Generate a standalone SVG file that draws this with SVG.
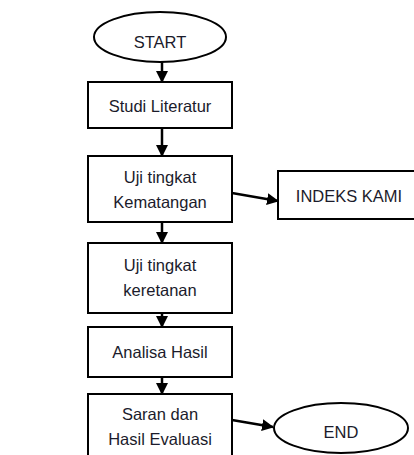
<svg xmlns="http://www.w3.org/2000/svg" width="414" height="455" viewBox="0 0 414 455">
<defs>
<marker id="ah" markerWidth="12" markerHeight="12" refX="11" refY="6" orient="auto" markerUnits="userSpaceOnUse">
<path d="M0,0 L12,6 L0,12 Z" fill="#000"/>
</marker>
<style>
.box{fill:#fff;stroke:#000;stroke-width:2}
.t{font-family:"Liberation Sans",Arial,sans-serif;font-size:16.5px;fill:#1b1b2b;text-anchor:middle}
.c{fill:none;stroke:#000;stroke-width:2.5;marker-end:url(#ah)}
</style>
</defs>
<rect width="414" height="455" fill="#fff"/>
<g id="connectors">
<path class="c" d="M162,62 L162,82"/>
<path class="c" d="M162,128 L162,156"/>
<path class="c" d="M162,222 L162,243"/>
<path class="c" d="M162,313 L162,327"/>
<path class="c" d="M162,377 L162,394"/>
<path class="c" d="M232,193 L278,201"/>
<path class="c" d="M232,420 L273,427"/>
</g>
<g id="start">
<ellipse class="box" cx="160" cy="37" rx="66" ry="25"/>
<text class="t" x="160" y="48">START</text>
</g>
<g id="studi">
<rect class="box" x="88" y="82" width="144" height="46"/>
<text class="t" x="160" y="112">Studi Literatur</text>
</g>
<g id="kematangan">
<rect class="box" x="88" y="156" width="144" height="66"/>
<text class="t" x="160" y="183">Uji tingkat</text>
<text class="t" x="160" y="208">Kematangan</text>
</g>
<g id="indeks">
<rect class="box" x="278" y="171" width="140" height="48"/>
<text class="t" x="349" y="202">INDEKS KAMI</text>
</g>
<g id="keretanan">
<rect class="box" x="88" y="243" width="144" height="70"/>
<text class="t" x="160" y="271">Uji tingkat</text>
<text class="t" x="160" y="296">keretanan</text>
</g>
<g id="analisa">
<rect class="box" x="88" y="327" width="144" height="50"/>
<text class="t" x="160" y="358">Analisa Hasil</text>
</g>
<g id="saran">
<rect class="box" x="88" y="394" width="144" height="70"/>
<text class="t" x="160" y="420">Saran dan</text>
<text class="t" x="160" y="445">Hasil Evaluasi</text>
</g>
<g id="end">
<ellipse class="box" cx="341" cy="428" rx="67" ry="25"/>
<text class="t" x="341" y="438">END</text>
</g>
</svg>
